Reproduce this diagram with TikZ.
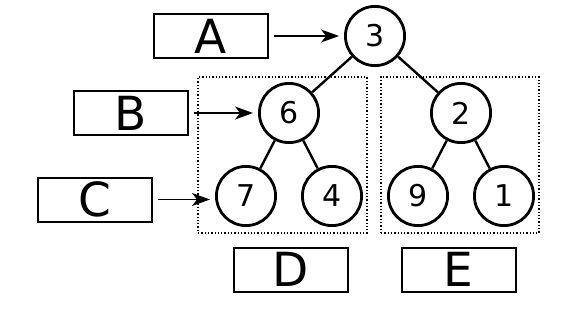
\documentclass[tikz,border=0pt]{standalone}
\usepackage{fontspec}
\setmainfont{DejaVu Sans}
\usetikzlibrary{arrows.meta,positioning}

\begin{document}
\begin{tikzpicture}[x=1pt,y=-1pt,on grid,
  vtx/.style={draw,circle,line width=2.8pt,minimum size=59.2pt,inner sep=0pt,font=\fontsize{30}{32}\selectfont},
  lbl/.style={draw,line width=2pt,minimum width=114pt,minimum height=44pt,inner sep=0pt,font=\fontsize{47}{50}\selectfont},
  grp/.style={draw,dotted,line width=1.3pt,inner sep=0pt},
  edg/.style={line width=2.4pt},
  arr/.style={-{Stealth[length=18pt,width=13pt,inset=5pt]},line width=1.5pt,shorten <=5pt,shorten >=5pt}]
\useasboundingbox (0,0) rectangle (578,310);
% tree
\node[vtx] (n3) at (375,36) {3};
\node[vtx,below left=77pt and 86pt of n3] (n6) {6};
\node[vtx,below right=77pt and 86pt of n3] (n2) {2};
\node[vtx,below left=83pt and 43pt of n6] (n7) {7};
\node[vtx,below right=83pt and 43pt of n6] (n4) {4};
\node[vtx,below left=83pt and 43pt of n2] (n9) {9};
\node[vtx,below right=83pt and 43pt of n2] (n1) {1};
\draw[edg](n3)--(n6);\draw[edg](n3)--(n2);
\draw[edg](n6)--(n7);\draw[edg](n6)--(n4);
\draw[edg](n2)--(n9);\draw[edg](n2)--(n1);
% subtrees
\node[grp,minimum width=169pt,minimum height=156pt] (gD) at (282.5,155) {};
\node[grp,minimum width=158pt,minimum height=156pt] (gE) at (460,155) {};
% labels
\node[lbl,left=164pt of n3] (bA) {A};
\node[lbl,left=158pt of n6] (bB) {B};
\node[lbl] (bC) at (95,199.5) {C};
\node[lbl] (bD) at (291,269.5) {D};
\node[lbl] (bE) at (458.5,269.5) {E};
\draw[arr](bA)--(n3);\draw[arr](bB)--(n6);
\draw[arr](bC.east)--(bC.east -| n7.west);
\end{tikzpicture}
\end{document}
